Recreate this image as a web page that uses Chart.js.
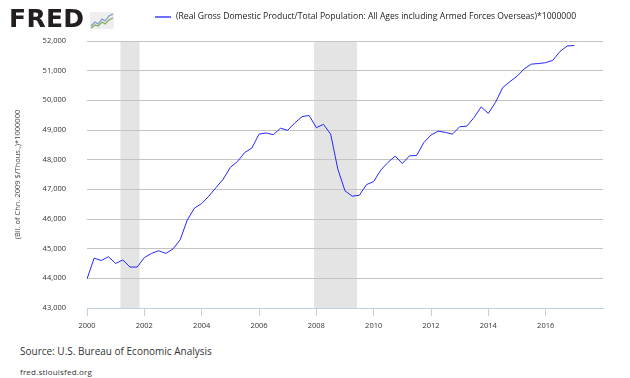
<!DOCTYPE html>
<html>
<head>
<meta charset="utf-8">
<script src="https://cdn.jsdelivr.net/npm/chart.js@4.4.0/dist/chart.umd.min.js"></script>
<style>
  body { margin: 0; background: #fff; }
  #wrap { position: relative; width: 630px; height: 378px; font-family: "Open Sans", sans-serif; overflow: hidden; }
  #chart { position: absolute; left: 0; top: 0; }
  #logo { position: absolute; left: 9px; top: 4px; font: bold 25px "DejaVu Sans", sans-serif; color: #231f20; letter-spacing: 0.3px; }
  #logo svg { position: absolute; left: 81px; top: 8px; }
  #legend { position: absolute; left: 155px; top: 10px; font-size: 8.6px; color: #222; white-space: nowrap; }
  #legend .swatch { display: inline-block; width: 16px; height: 2px; vertical-align: middle; margin-right: 5px; }
  #source { position: absolute; left: 20px; top: 344px; font-size: 10px; color: #333; }
  #site { position: absolute; left: 20px; top: 366px; font-size: 8px; letter-spacing: 0.2px; color: #333; }
</style>
</head>
<body>
<div id="wrap">
  <canvas id="chart" width="630" height="340"></canvas>
  <div id="logo">FRED<svg width="24" height="17" viewBox="0 0 24 17">
      <rect x="0" y="0" width="24" height="17" rx="2" fill="#eeeeee"/>
      <polyline points="1,14 5,10 8,12 12,7 15,9 19,4 23,2" fill="none" stroke="#7a9cc6" stroke-width="1.2"/>
      <polyline points="1,16 5,13 8,14 12,10 15,12 19,8 23,6" fill="none" stroke="#7fae5a" stroke-width="1.2"/>
    </svg></div>
  <div id="legend"></div>
  <div id="source">Source: U.S. Bureau of Economic Analysis</div>
  <div id="site">fred.stlouisfed.org</div>
</div>
<script>
document.addEventListener("DOMContentLoaded", function() {
    const startYear = 2000;
    const seriesLabel = '(Real Gross Domestic Product/Total Population: All Ages including Armed Forces Overseas)*1000000';
    const axisTitle = '(Bil. of Chn. 2009 $/Thous.,)*1000000';

    // quarterly values, 2000 Q1 .. 2017 Q1
    const gdpPerCapita = [
        43980, 44680, 44600, 44730,
        44500, 44620, 44380, 44380,
        44700, 44840, 44930, 44840,
        44990, 45300, 45970, 46370,
        46520, 46770, 47060, 47340,
        47740, 47940, 48240, 48390,
        48860, 48900, 48840, 49060,
        48990, 49240, 49450, 49490,
        49080, 49190, 48860, 47680,
        46950, 46770, 46800, 47160,
        47260, 47650, 47910, 48120,
        47870, 48130, 48140, 48580,
        48830, 48960, 48920, 48860,
        49110, 49130, 49420, 49780,
        49560, 49930, 50430, 50630,
        50810, 51060, 51220, 51240,
        51270, 51350, 51650, 51830,
        51850
    ];

    const xTickYears = [2000, 2002, 2004, 2006, 2008, 2010, 2012, 2014, 2016];
    const yMin = 43000;
    const yMax = 52000;

    // recession periods in decimal years (Mar 2001 - Nov 2001, Dec 2007 - Jun 2009)
    const recessionStarts = [2001.1667, 2007.9167];
    const recessionEnds = [2001.8333, 2009.4167];

    const lineColor = '#2626ff';

    const points = gdpPerCapita.map((v, i) => ({ x: startYear + i / 4, y: v }));

    const recessionShading = {
        id: 'recessionShading',
        beforeDraw(chart) {
            const { ctx, chartArea, scales } = chart;
            ctx.save();
            ctx.fillStyle = '#e4e4e4';
            recessionStarts.forEach((start, i) => {
                const x0 = scales.x.getPixelForValue(start);
                const x1 = scales.x.getPixelForValue(recessionEnds[i]);
                ctx.fillRect(x0, chartArea.top, x1 - x0, chartArea.bottom - chartArea.top);
            });
            ctx.restore();
        }
    };

    const tickFont = { family: 'Open Sans', size: 7.5 };

    const chart = new Chart(document.getElementById('chart').getContext('2d'), {
        type: 'line',
        data: {
            datasets: [{
                label: seriesLabel,
                data: points,
                borderColor: lineColor,
                borderWidth: 1,
                pointRadius: 0,
                tension: 0,
                fill: false
            }]
        },
        options: {
            responsive: false,
            animation: false,
            layout: { padding: { left: 13, right: 27, top: 41, bottom: 5 } },
            plugins: {
                legend: { display: false },
                tooltip: { enabled: false }
            },
            scales: {
                x: {
                    type: 'linear',
                    min: 2000,
                    max: 2018,
                    afterBuildTicks: function(scale) {
                        scale.ticks = xTickYears.map(v => ({ value: v }));
                    },
                    ticks: {
                        callback: v => String(v),
                        font: tickFont,
                        color: '#333',
                        padding: 5,
                        maxRotation: 0,
                        autoSkip: false
                    },
                    grid: { drawOnChartArea: false, color: '#c0d0e0', tickLength: 8 },
                    border: { color: '#c0d0e0' }
                },
                y: {
                    min: yMin,
                    max: yMax,
                    ticks: {
                        stepSize: 1000,
                        callback: v => v.toLocaleString('en-US'),
                        font: tickFont,
                        color: '#333',
                        padding: 21
                    },
                    grid: { color: '#c4c4c4', drawTicks: false },
                    border: { display: false },
                    title: {
                        display: true,
                        text: axisTitle,
                        font: tickFont,
                        color: '#444',
                        padding: 0
                    },
                    afterFit: function(scale) {
                        scale.width = 74;
                    }
                }
            }
        },
        plugins: [recessionShading]
    });

    // html legend built from the dataset
    const legend = document.getElementById('legend');
    chart.data.datasets.forEach(ds => {
        const item = document.createElement('span');
        const swatch = document.createElement('span');
        swatch.className = 'swatch';
        swatch.style.background = '#6e6eff';
        item.appendChild(swatch);
        item.appendChild(document.createTextNode(ds.label));
        legend.appendChild(item);
    });
});
</script>
</body>
</html>
